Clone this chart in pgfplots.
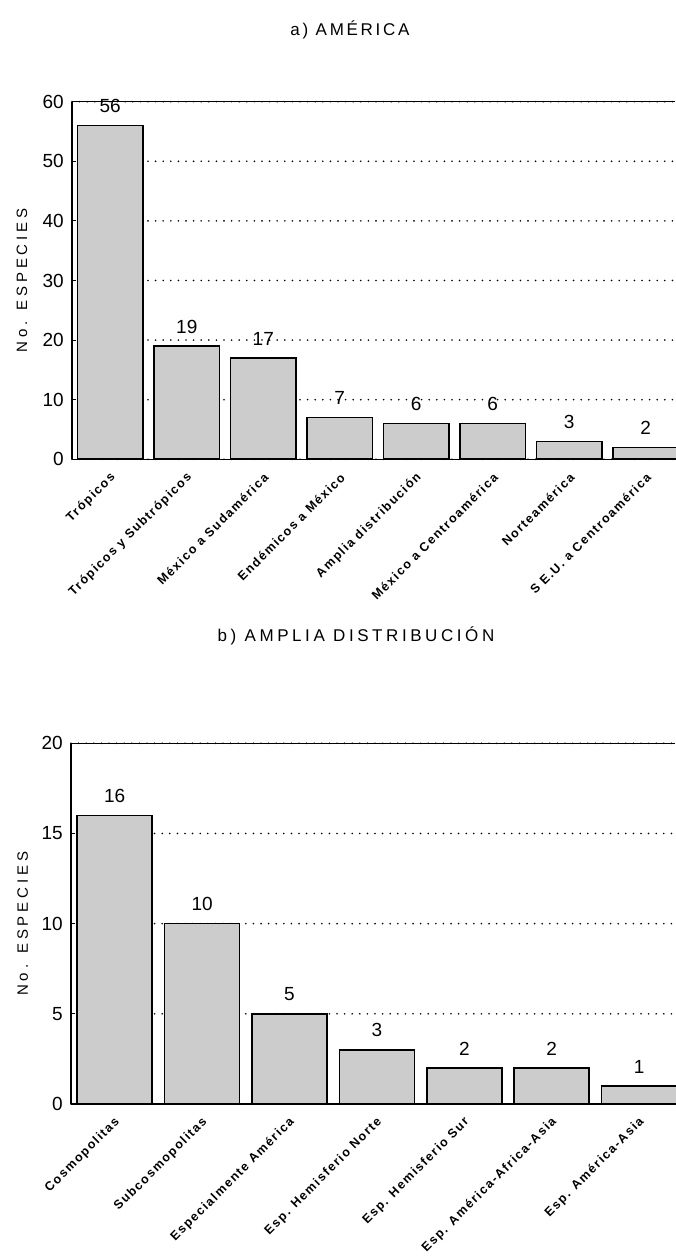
\documentclass[border=0pt]{standalone}
\usepackage{fontspec}
\setmainfont{Liberation Sans}
\newfontfamily\labfont[LetterSpace=12]{Liberation Sans}
\newfontfamily\ylabfont[LetterSpace=26]{Liberation Sans}
\newfontfamily\titfont[LetterSpace=16]{Liberation Sans}
\newfontfamily\titbfont[LetterSpace=21]{Liberation Sans}
\usepackage{pgfplots}
\usepackage{pgfplotstable}
\pgfplotsset{compat=1.18}

\pgfplotstableread{
x y
0 56
1 19
2 17
3 7
4 6
5 6
6 3
7 2
}\dataA
\pgfplotstableread{
x y
0 16
1 10
2 5
3 3
4 2
5 2
6 1
}\dataB

\pgfplotsset{mybars/.style={
  scale only axis, clip=false,
  axis x line=box, axis y line=left,
  axis line style={-, line width=1.4pt},
  xmin=-0.5, ymin=0,
  xtick style={draw=none},
  ytick style={line width=1pt, black},
  tick align=inside, major tick length=4pt,
  ymajorgrids,
  grid style={black, line width=1.8pt, dash pattern=on 0pt off 7.6pt, line cap=round},
  /pgf/number format/assume math mode=true,
  yticklabel style={font=\fontsize{19}{19}\selectfont, inner sep=0pt, xshift=-8pt},
  xticklabel style={font=\labfont\bfseries\fontsize{12.5}{12.5}\selectfont, inner sep=0pt, xshift=3pt, yshift=-12pt, rotate=45, anchor=east},
  ybar, bar width=0.86,
  nodes near coords,
  every node near coord/.append style={font=\fontsize{19}{19}\selectfont, inner sep=0pt, yshift=12pt, black},
  ylabel={No. ESPECIES},
  ylabel style={font=\ylabfont\fontsize{15}{15}\selectfont, anchor=center},
}}

\begin{document}
\begin{tikzpicture}
\path[use as bounding box] (0,0) rectangle (675pt,1256pt);

\node[font=\titfont\fontsize{17}{17}\selectfont] at (350pt,1226pt) {a) AMÉRICA};
\node[font=\titbfont\fontsize{17}{17}\selectfont] at (356pt,620pt) {b) AMPLIA DISTRIBUCIÓN};

\begin{axis}[mybars,
  at={(72pt,796.7pt)}, anchor=south west,
  width=603pt, height=357.6pt,
  xmax=7.382, ymax=60,
  ytick={0,10,...,60},
  xtick={0,...,7},
  xticklabels={Trópicos, Trópicos y Subtrópicos, México a Sudamérica, Endémicos a México, Amplia distribución, México a Centroamérica, Norteamérica, S E.U. a Centroamérica},
  ylabel style={at={(axis description cs:-0.083,0.5)}},
]
\addplot[fill=black!20, draw=black, line width=1.6pt] table[x=x,y=y] {\dataA};
\end{axis}

\begin{axis}[mybars,
  at={(71pt,152pt)}, anchor=south west,
  width=604pt, height=360.7pt,
  xmax=6.411, ymax=20,
  ytick={0,5,...,20},
  xtick={0,...,6},
  xticklabels={Cosmopolitas, Subcosmopolitas, Especialmente América, Esp. Hemisferio Norte, Esp. Hemisferio Sur, Esp. América-Africa-Asia, Esp. América-Asia},
  ylabel style={at={(axis description cs:-0.08,0.5)}},
]
\addplot[fill=black!20, draw=black, line width=1.6pt] table[x=x,y=y] {\dataB};
\end{axis}
\end{tikzpicture}
\end{document}
